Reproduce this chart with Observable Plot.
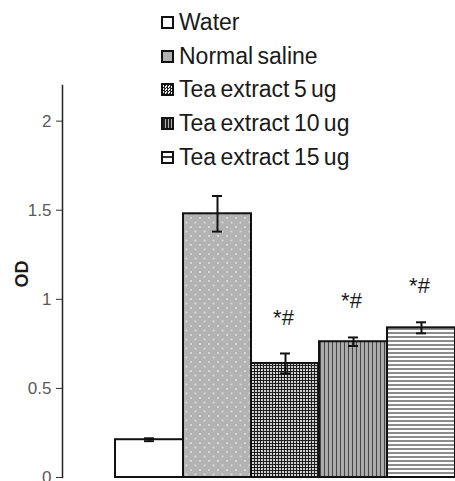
<!DOCTYPE html>
<html>
<head>
<meta charset="utf-8">
<script src="https://cdn.jsdelivr.net/npm/d3@7"></script>
<script src="https://cdn.jsdelivr.net/npm/@observablehq/plot@0.6"></script>
<style>
  html, body { margin: 0; padding: 0; background: #fff; }
  #wrap { position: relative; width: 455px; height: 481px; overflow: hidden; font-family: "Liberation Sans", Arial, sans-serif; }
  #legend { position: absolute; left: 161px; top: 5.4px; }
  .row { display: flex; align-items: center; height: 33.8px; }
  .sw { width: 9px; height: 9px; border: 2px solid #111; box-sizing: content-box; margin-right: 5px; flex: none; }
  .lab { font-size: 23px; color: #1a1a1a; letter-spacing: 0; word-spacing: -2px; white-space: nowrap; }
</style>
</head>
<body>
<div id="wrap">
  <div id="chart"></div>
  <div id="legend"></div>
</div>
<script>
const names = ["Water", "Normal saline", "Tea extract 5 ug", "Tea extract 10 ug", "Tea extract 15 ug"];
const values = [0.212, 1.48, 0.64, 0.762, 0.84];
const errors = [0.008, 0.10, 0.056, 0.024, 0.031];
const notes = ["", "", "*#", "*#", "*#"];
const yTicks = [0, 0.5, 1, 1.5, 2];
const patternIds = ["p-water", "p-saline", "p-tea5", "p-tea10", "p-tea15"];

const data = names.map((n, i) => ({name: n, value: values[i], err: errors[i], note: notes[i]}));
const annotated = data.filter(d => d.note);

const chart = Plot.plot({
  width: 455,
  height: 481,
  marginTop: 85,
  marginBottom: 4,
  marginLeft: 62,
  marginRight: 0,
  style: {fontFamily: "'Liberation Sans', Arial, sans-serif", background: "white"},
  x: {domain: names, range: [113, 456.5], padding: 0, axis: null},
  y: {domain: [0, 2.2]},
  color: {domain: names, range: patternIds.map(id => `url(#${id})`)},
  marks: [
    Plot.barY(data, {x: "name", y: "value", fill: "name", stroke: "#111", strokeWidth: 2}),
    Plot.ruleX(data, {x: "name", y1: d => d.value - d.err, y2: d => d.value + d.err, stroke: "#111", strokeWidth: 2}),
    Plot.tickY(data, {x: "name", y: d => d.value + d.err, stroke: "#111", strokeWidth: 2, insetLeft: 29, insetRight: 29}),
    Plot.tickY(data, {x: "name", y: d => d.value - d.err, stroke: "#111", strokeWidth: 2, insetLeft: 29, insetRight: 29}),
    Plot.text(annotated, {x: "name", y: d => d.value + d.err, text: "note", dy: -36, dx: -2, fontSize: 22, fill: "#1a1a1a"}),
    Plot.axisY({ticks: yTicks, tickSize: 6, tickPadding: 5, fontSize: 17, fill: "#595959", stroke: "#333", label: null, tickFormat: d => String(d)}),
    Plot.frame({anchor: "left", stroke: "#222", strokeWidth: 1.5}),
    Plot.text(["OD"], {frameAnchor: "left", rotate: -90, dx: -40, dy: 6, fontSize: 18, fontWeight: "bold", fill: "#1a1a1a"})
  ]
});

// pattern definitions
const svg = d3.select(chart.tagName.toLowerCase() === "svg" ? chart : chart.querySelector("svg"));
const defs = svg.insert("defs", ":first-child");
const pw = defs.append("pattern").attr("id", "p-water").attr("patternUnits", "userSpaceOnUse").attr("width", 4).attr("height", 4);
pw.append("rect").attr("width", 4).attr("height", 4).attr("fill", "#fff");

const ps = defs.append("pattern").attr("id", "p-saline").attr("patternUnits", "userSpaceOnUse").attr("width", 9).attr("height", 9);
ps.append("rect").attr("width", 9).attr("height", 9).attr("fill", "#b3b3b3");
ps.append("rect").attr("x", 1).attr("y", 1).attr("width", 2).attr("height", 2).attr("fill", "#d6d6d6");
ps.append("rect").attr("x", 5.5).attr("y", 5.5).attr("width", 2).attr("height", 2).attr("fill", "#d6d6d6");

const p5 = defs.append("pattern").attr("id", "p-tea5").attr("patternUnits", "userSpaceOnUse").attr("width", 3).attr("height", 3);
p5.append("rect").attr("width", 3).attr("height", 3).attr("fill", "#1e1e1e");
p5.append("rect").attr("width", 2).attr("height", 2).attr("fill", "#d0d0d0");

const p10 = defs.append("pattern").attr("id", "p-tea10").attr("patternUnits", "userSpaceOnUse").attr("width", 4).attr("height", 4);
p10.append("rect").attr("width", 4).attr("height", 4).attr("fill", "#ababab");
p10.append("rect").attr("width", 1).attr("height", 4).attr("fill", "#444");

const p15 = defs.append("pattern").attr("id", "p-tea15").attr("patternUnits", "userSpaceOnUse").attr("width", 4).attr("height", 4);
p15.append("rect").attr("width", 4).attr("height", 4).attr("fill", "#fff");
p15.append("rect").attr("width", 4).attr("height", 2).attr("fill", "#8c8c8c");

document.getElementById("chart").appendChild(chart);

// legend
const swatchBg = [
  "#fff",
  "#b0b0b0",
  "repeating-conic-gradient(#222 0 25%, #eee 0 50%) 0 0 / 3px 3px",
  "repeating-linear-gradient(90deg, #222 0 1.5px, #b0b0b0 1.5px 3px)",
  "linear-gradient(#fff 0 3.5px, #333 3.5px 5.5px, #fff 5.5px)"
];
const legend = d3.select("#legend");
names.forEach((n, i) => {
  const row = legend.append("div").attr("class", "row");
  row.append("div").attr("class", "sw").style("background", swatchBg[i]);
  row.append("div").attr("class", "lab").text(n);
});
</script>
</body>
</html>
